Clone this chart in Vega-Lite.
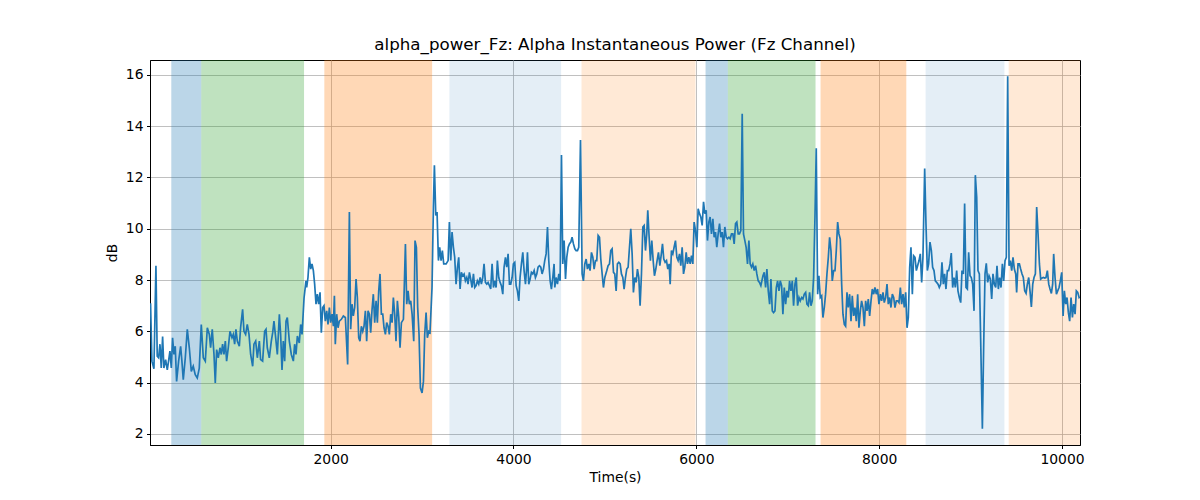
{
  "$schema": "https://vega.github.io/schema/vega-lite/v6.json",
  "autosize": {"type": "none"},
  "width": 930,
  "height": 385,
  "padding": {"left": 150, "top": 60, "right": 120, "bottom": 55},
  "background": "#ffffff",
  "config": {
    "font": "DejaVu Sans",
    "view": {"stroke": "#000000", "strokeWidth": 1},
    "axis": {
      "domainColor": "#000000",
      "tickColor": "#000000",
      "tickSize": 3.5,
      "labelPadding": 3.5,
      "labelFontSize": 13.9,
      "labelColor": "#000000",
      "titleFontSize": 13.9,
      "titleFontWeight": "normal",
      "titleColor": "#000000",
      "gridColor": "#b0b0b0",
      "gridWidth": 0.8
    },
    "title": {"fontSize": 16.7, "fontWeight": "normal", "color": "#000000", "offset": 6}
  },
  "title": "alpha_power_Fz: Alpha Instantaneous Power (Fz Channel)",
  "datasets": {
    "bands": [
      {"start": 257, "end": 585, "phase": "S1"},
      {"start": 585, "end": 1709, "phase": "S2"},
      {"start": 1931, "end": 3110, "phase": "S3"},
      {"start": 3299, "end": 4521, "phase": "S4"},
      {"start": 4744, "end": 5991, "phase": "S5"},
      {"start": 6101, "end": 6345, "phase": "S1"},
      {"start": 6345, "end": 7304, "phase": "S2"},
      {"start": 7359, "end": 8297, "phase": "S3"},
      {"start": 8508, "end": 9370, "phase": "S4"},
      {"start": 9417, "end": 10197, "phase": "S5"}
    ],
    "power": [
      {"time": 30, "db": 7.1}, {"time": 45, "db": 4.84}, {"time": 67, "db": 4.54}, {"time": 89, "db": 8.56},
      {"time": 103, "db": 5.03}, {"time": 118, "db": 4.97}, {"time": 133, "db": 5.5}, {"time": 147, "db": 4.57},
      {"time": 162, "db": 5.8}, {"time": 176, "db": 4.57}, {"time": 195, "db": 4.9}, {"time": 213, "db": 4.5},
      {"time": 227, "db": 4.84}, {"time": 242, "db": 5.23}, {"time": 257, "db": 4.57}, {"time": 271, "db": 5.75},
      {"time": 286, "db": 5.1}, {"time": 300, "db": 5.42}, {"time": 315, "db": 4.05}, {"time": 337, "db": 4.84},
      {"time": 359, "db": 5.42}, {"time": 373, "db": 4.84}, {"time": 388, "db": 4.12}, {"time": 410, "db": 4.97},
      {"time": 432, "db": 6.08}, {"time": 454, "db": 5.36}, {"time": 476, "db": 4.44}, {"time": 497, "db": 4.64},
      {"time": 519, "db": 4.31}, {"time": 541, "db": 4.18}, {"time": 563, "db": 4.57}, {"time": 585, "db": 6.27},
      {"time": 607, "db": 4.97}, {"time": 629, "db": 4.84}, {"time": 651, "db": 6.14}, {"time": 673, "db": 5.88},
      {"time": 687, "db": 5.36}, {"time": 705, "db": 6.08}, {"time": 724, "db": 5.1}, {"time": 738, "db": 3.99},
      {"time": 753, "db": 5.29}, {"time": 771, "db": 4.97}, {"time": 789, "db": 5.36}, {"time": 804, "db": 5.1},
      {"time": 818, "db": 5.5}, {"time": 833, "db": 5.1}, {"time": 848, "db": 5.62}, {"time": 862, "db": 4.84},
      {"time": 880, "db": 5.36}, {"time": 899, "db": 6.0}, {"time": 921, "db": 5.75}, {"time": 935, "db": 5.88},
      {"time": 950, "db": 5.5}, {"time": 964, "db": 6.08}, {"time": 979, "db": 5.62}, {"time": 1001, "db": 5.42},
      {"time": 1015, "db": 6.14}, {"time": 1037, "db": 6.86}, {"time": 1052, "db": 6.0}, {"time": 1070, "db": 5.88},
      {"time": 1088, "db": 6.27}, {"time": 1107, "db": 5.88}, {"time": 1125, "db": 5.1}, {"time": 1147, "db": 4.64},
      {"time": 1161, "db": 5.5}, {"time": 1180, "db": 5.62}, {"time": 1198, "db": 4.97}, {"time": 1220, "db": 5.62},
      {"time": 1234, "db": 4.9}, {"time": 1256, "db": 4.84}, {"time": 1278, "db": 6.0}, {"time": 1293, "db": 6.08},
      {"time": 1307, "db": 5.36}, {"time": 1329, "db": 4.97}, {"time": 1351, "db": 5.62}, {"time": 1366, "db": 5.95},
      {"time": 1380, "db": 6.4}, {"time": 1395, "db": 5.88}, {"time": 1417, "db": 5.1}, {"time": 1439, "db": 6.67},
      {"time": 1453, "db": 5.88}, {"time": 1468, "db": 4.5}, {"time": 1482, "db": 5.62}, {"time": 1497, "db": 4.84},
      {"time": 1512, "db": 6.4}, {"time": 1526, "db": 6.54}, {"time": 1548, "db": 5.62}, {"time": 1570, "db": 5.1},
      {"time": 1592, "db": 4.84}, {"time": 1606, "db": 5.5}, {"time": 1621, "db": 5.1}, {"time": 1636, "db": 5.82},
      {"time": 1657, "db": 5.55}, {"time": 1672, "db": 6.27}, {"time": 1687, "db": 5.88}, {"time": 1709, "db": 7.3},
      {"time": 1730, "db": 7.97}, {"time": 1738, "db": 7.71}, {"time": 1752, "db": 8.1}, {"time": 1767, "db": 8.89},
      {"time": 1782, "db": 8.43}, {"time": 1796, "db": 8.63}, {"time": 1811, "db": 8.37}, {"time": 1825, "db": 7.84},
      {"time": 1840, "db": 7.06}, {"time": 1854, "db": 7.45}, {"time": 1869, "db": 7.06}, {"time": 1884, "db": 7.52},
      {"time": 1898, "db": 5.95}, {"time": 1913, "db": 6.93}, {"time": 1927, "db": 7.0}, {"time": 1942, "db": 6.4},
      {"time": 1957, "db": 6.8}, {"time": 1971, "db": 6.27}, {"time": 1986, "db": 6.93}, {"time": 2000, "db": 6.34},
      {"time": 2015, "db": 6.67}, {"time": 2030, "db": 6.2}, {"time": 2041, "db": 7.39}, {"time": 2051, "db": 5.5},
      {"time": 2066, "db": 6.67}, {"time": 2081, "db": 6.14}, {"time": 2095, "db": 6.4}, {"time": 2117, "db": 6.47},
      {"time": 2139, "db": 6.6}, {"time": 2161, "db": 6.54}, {"time": 2186, "db": 4.71}, {"time": 2205, "db": 10.65},
      {"time": 2219, "db": 6.08}, {"time": 2234, "db": 7.06}, {"time": 2248, "db": 6.6}, {"time": 2263, "db": 6.93},
      {"time": 2278, "db": 8.04}, {"time": 2292, "db": 7.32}, {"time": 2307, "db": 5.75}, {"time": 2321, "db": 5.62},
      {"time": 2336, "db": 6.2}, {"time": 2351, "db": 6.0}, {"time": 2365, "db": 6.2}, {"time": 2380, "db": 6.8},
      {"time": 2394, "db": 5.62}, {"time": 2409, "db": 6.8}, {"time": 2424, "db": 6.67}, {"time": 2438, "db": 5.95},
      {"time": 2453, "db": 6.86}, {"time": 2467, "db": 7.45}, {"time": 2482, "db": 6.34}, {"time": 2497, "db": 7.19},
      {"time": 2511, "db": 6.34}, {"time": 2526, "db": 7.58}, {"time": 2540, "db": 8.24}, {"time": 2555, "db": 6.67},
      {"time": 2570, "db": 6.67}, {"time": 2584, "db": 6.14}, {"time": 2599, "db": 5.88}, {"time": 2613, "db": 6.34},
      {"time": 2628, "db": 6.2}, {"time": 2642, "db": 5.88}, {"time": 2657, "db": 6.67}, {"time": 2672, "db": 6.34},
      {"time": 2686, "db": 7.32}, {"time": 2701, "db": 6.67}, {"time": 2715, "db": 5.62}, {"time": 2730, "db": 7.19},
      {"time": 2745, "db": 6.54}, {"time": 2759, "db": 5.36}, {"time": 2774, "db": 6.34}, {"time": 2796, "db": 6.47},
      {"time": 2818, "db": 9.41}, {"time": 2832, "db": 7.06}, {"time": 2847, "db": 7.58}, {"time": 2861, "db": 7.06},
      {"time": 2876, "db": 7.19}, {"time": 2891, "db": 6.67}, {"time": 2909, "db": 5.62}, {"time": 2923, "db": 9.54},
      {"time": 2938, "db": 9.28}, {"time": 2952, "db": 6.93}, {"time": 2967, "db": 5.88}, {"time": 2982, "db": 3.79},
      {"time": 3000, "db": 3.6}, {"time": 3015, "db": 4.05}, {"time": 3029, "db": 5.88}, {"time": 3044, "db": 6.73},
      {"time": 3058, "db": 5.75}, {"time": 3073, "db": 6.0}, {"time": 3087, "db": 5.95}, {"time": 3109, "db": 7.71},
      {"time": 3124, "db": 10.85}, {"time": 3135, "db": 12.48}, {"time": 3150, "db": 10.52}, {"time": 3164, "db": 10.65},
      {"time": 3179, "db": 8.76}, {"time": 3193, "db": 9.28}, {"time": 3208, "db": 8.76}, {"time": 3222, "db": 9.15},
      {"time": 3237, "db": 8.63}, {"time": 3263, "db": 8.63}, {"time": 3285, "db": 8.76}, {"time": 3299, "db": 10.26},
      {"time": 3314, "db": 8.76}, {"time": 3328, "db": 9.87}, {"time": 3343, "db": 9.28}, {"time": 3357, "db": 8.89},
      {"time": 3372, "db": 7.84}, {"time": 3387, "db": 8.5}, {"time": 3401, "db": 8.89}, {"time": 3416, "db": 7.65},
      {"time": 3430, "db": 8.3}, {"time": 3445, "db": 8.17}, {"time": 3460, "db": 8.24}, {"time": 3474, "db": 7.97},
      {"time": 3489, "db": 8.1}, {"time": 3503, "db": 7.84}, {"time": 3518, "db": 8.3}, {"time": 3532, "db": 8.04},
      {"time": 3547, "db": 7.71}, {"time": 3562, "db": 8.24}, {"time": 3576, "db": 7.71}, {"time": 3591, "db": 7.78},
      {"time": 3605, "db": 7.97}, {"time": 3620, "db": 7.84}, {"time": 3635, "db": 8.1}, {"time": 3649, "db": 7.84},
      {"time": 3664, "db": 8.1}, {"time": 3678, "db": 8.63}, {"time": 3693, "db": 7.91}, {"time": 3708, "db": 7.84},
      {"time": 3722, "db": 7.91}, {"time": 3737, "db": 7.78}, {"time": 3751, "db": 7.65}, {"time": 3766, "db": 8.63},
      {"time": 3781, "db": 7.71}, {"time": 3795, "db": 7.97}, {"time": 3810, "db": 7.71}, {"time": 3824, "db": 8.76},
      {"time": 3839, "db": 8.1}, {"time": 3854, "db": 7.91}, {"time": 3868, "db": 7.78}, {"time": 3883, "db": 7.45},
      {"time": 3897, "db": 8.5}, {"time": 3912, "db": 8.89}, {"time": 3926, "db": 8.5}, {"time": 3941, "db": 9.02},
      {"time": 3956, "db": 7.84}, {"time": 3970, "db": 7.84}, {"time": 3985, "db": 8.1}, {"time": 3999, "db": 8.63},
      {"time": 4014, "db": 8.69}, {"time": 4029, "db": 7.78}, {"time": 4043, "db": 7.58}, {"time": 4058, "db": 7.19},
      {"time": 4072, "db": 8.1}, {"time": 4087, "db": 8.63}, {"time": 4102, "db": 9.08}, {"time": 4116, "db": 8.37},
      {"time": 4131, "db": 7.84}, {"time": 4145, "db": 8.5}, {"time": 4153, "db": 9.08}, {"time": 4167, "db": 7.84},
      {"time": 4182, "db": 8.04}, {"time": 4196, "db": 8.3}, {"time": 4211, "db": 8.24}, {"time": 4226, "db": 8.37},
      {"time": 4240, "db": 8.1}, {"time": 4255, "db": 8.24}, {"time": 4269, "db": 8.5}, {"time": 4284, "db": 8.56},
      {"time": 4299, "db": 8.5}, {"time": 4313, "db": 8.24}, {"time": 4328, "db": 8.43}, {"time": 4342, "db": 8.76},
      {"time": 4357, "db": 9.02}, {"time": 4372, "db": 10.07}, {"time": 4386, "db": 8.76}, {"time": 4401, "db": 7.97},
      {"time": 4415, "db": 7.65}, {"time": 4430, "db": 8.1}, {"time": 4444, "db": 8.63}, {"time": 4452, "db": 7.71},
      {"time": 4466, "db": 8.1}, {"time": 4481, "db": 7.84}, {"time": 4496, "db": 8.24}, {"time": 4510, "db": 7.97},
      {"time": 4525, "db": 12.88}, {"time": 4539, "db": 8.63}, {"time": 4554, "db": 9.54}, {"time": 4569, "db": 8.04},
      {"time": 4583, "db": 8.89}, {"time": 4598, "db": 9.28}, {"time": 4612, "db": 9.41}, {"time": 4627, "db": 9.48},
      {"time": 4641, "db": 9.67}, {"time": 4656, "db": 9.41}, {"time": 4671, "db": 9.22}, {"time": 4685, "db": 9.15},
      {"time": 4700, "db": 9.15}, {"time": 4714, "db": 9.28}, {"time": 4733, "db": 13.46}, {"time": 4751, "db": 8.24},
      {"time": 4765, "db": 7.97}, {"time": 4780, "db": 8.63}, {"time": 4795, "db": 8.82}, {"time": 4809, "db": 8.43},
      {"time": 4824, "db": 8.63}, {"time": 4838, "db": 8.37}, {"time": 4853, "db": 9.08}, {"time": 4868, "db": 8.89},
      {"time": 4882, "db": 8.43}, {"time": 4897, "db": 8.76}, {"time": 4911, "db": 8.76}, {"time": 4926, "db": 9.74},
      {"time": 4941, "db": 9.67}, {"time": 4955, "db": 8.82}, {"time": 4970, "db": 8.24}, {"time": 4984, "db": 7.71},
      {"time": 4999, "db": 8.1}, {"time": 5021, "db": 8.37}, {"time": 5035, "db": 8.56}, {"time": 5050, "db": 8.63},
      {"time": 5064, "db": 9.15}, {"time": 5079, "db": 9.22}, {"time": 5094, "db": 8.3}, {"time": 5108, "db": 8.24},
      {"time": 5123, "db": 7.58}, {"time": 5137, "db": 8.63}, {"time": 5152, "db": 8.69}, {"time": 5167, "db": 8.63},
      {"time": 5181, "db": 8.24}, {"time": 5196, "db": 8.1}, {"time": 5210, "db": 7.65}, {"time": 5225, "db": 8.1},
      {"time": 5239, "db": 8.43}, {"time": 5254, "db": 8.5}, {"time": 5269, "db": 9.28}, {"time": 5283, "db": 10.0},
      {"time": 5298, "db": 9.02}, {"time": 5312, "db": 7.52}, {"time": 5327, "db": 8.1}, {"time": 5342, "db": 7.91},
      {"time": 5356, "db": 8.43}, {"time": 5371, "db": 8.1}, {"time": 5385, "db": 7.0}, {"time": 5400, "db": 8.24},
      {"time": 5415, "db": 10.07}, {"time": 5429, "db": 10.13}, {"time": 5444, "db": 9.15}, {"time": 5458, "db": 9.8},
      {"time": 5469, "db": 10.72}, {"time": 5484, "db": 9.67}, {"time": 5498, "db": 8.76}, {"time": 5513, "db": 9.54},
      {"time": 5528, "db": 8.76}, {"time": 5542, "db": 8.17}, {"time": 5557, "db": 8.43}, {"time": 5571, "db": 8.76},
      {"time": 5586, "db": 9.08}, {"time": 5601, "db": 8.56}, {"time": 5615, "db": 8.95}, {"time": 5630, "db": 9.41},
      {"time": 5644, "db": 8.82}, {"time": 5659, "db": 8.69}, {"time": 5674, "db": 8.76}, {"time": 5688, "db": 8.43},
      {"time": 5703, "db": 8.63}, {"time": 5714, "db": 7.84}, {"time": 5728, "db": 9.15}, {"time": 5743, "db": 9.02},
      {"time": 5757, "db": 9.28}, {"time": 5772, "db": 9.54}, {"time": 5787, "db": 8.89}, {"time": 5801, "db": 8.76},
      {"time": 5816, "db": 9.02}, {"time": 5830, "db": 8.56}, {"time": 5845, "db": 9.28}, {"time": 5860, "db": 8.24},
      {"time": 5874, "db": 8.5}, {"time": 5889, "db": 9.08}, {"time": 5903, "db": 8.63}, {"time": 5918, "db": 8.89},
      {"time": 5933, "db": 8.63}, {"time": 5947, "db": 8.95}, {"time": 5962, "db": 8.63}, {"time": 5976, "db": 10.26},
      {"time": 5991, "db": 9.93}, {"time": 6006, "db": 9.28}, {"time": 6020, "db": 10.78}, {"time": 6035, "db": 10.59},
      {"time": 6049, "db": 10.46}, {"time": 6064, "db": 10.13}, {"time": 6079, "db": 11.05}, {"time": 6093, "db": 10.59},
      {"time": 6108, "db": 10.72}, {"time": 6122, "db": 9.54}, {"time": 6137, "db": 10.26}, {"time": 6151, "db": 10.46},
      {"time": 6166, "db": 9.8}, {"time": 6181, "db": 10.39}, {"time": 6195, "db": 9.67}, {"time": 6210, "db": 9.87},
      {"time": 6224, "db": 9.28}, {"time": 6239, "db": 9.8}, {"time": 6254, "db": 10.2}, {"time": 6268, "db": 9.67},
      {"time": 6283, "db": 9.87}, {"time": 6297, "db": 9.28}, {"time": 6312, "db": 10.07}, {"time": 6327, "db": 9.67},
      {"time": 6341, "db": 9.61}, {"time": 6356, "db": 9.67}, {"time": 6370, "db": 9.61}, {"time": 6385, "db": 9.8},
      {"time": 6400, "db": 9.8}, {"time": 6414, "db": 9.41}, {"time": 6429, "db": 10.2}, {"time": 6443, "db": 10.26},
      {"time": 6458, "db": 9.8}, {"time": 6472, "db": 9.8}, {"time": 6487, "db": 9.93}, {"time": 6502, "db": 14.48},
      {"time": 6516, "db": 9.8}, {"time": 6531, "db": 9.54}, {"time": 6545, "db": 9.28}, {"time": 6560, "db": 8.63},
      {"time": 6575, "db": 9.54}, {"time": 6589, "db": 8.63}, {"time": 6604, "db": 8.5}, {"time": 6618, "db": 8.63},
      {"time": 6633, "db": 8.37}, {"time": 6648, "db": 8.56}, {"time": 6662, "db": 8.24}, {"time": 6677, "db": 7.97},
      {"time": 6691, "db": 7.91}, {"time": 6706, "db": 7.78}, {"time": 6729, "db": 8.17}, {"time": 6743, "db": 8.3},
      {"time": 6758, "db": 7.71}, {"time": 6772, "db": 8.43}, {"time": 6787, "db": 7.58}, {"time": 6802, "db": 7.06},
      {"time": 6816, "db": 8.04}, {"time": 6831, "db": 6.8}, {"time": 6845, "db": 6.73}, {"time": 6860, "db": 6.8},
      {"time": 6875, "db": 7.71}, {"time": 6889, "db": 7.97}, {"time": 6904, "db": 7.58}, {"time": 6918, "db": 7.97},
      {"time": 6933, "db": 7.78}, {"time": 6947, "db": 6.67}, {"time": 6962, "db": 7.71}, {"time": 6977, "db": 7.06},
      {"time": 6991, "db": 7.58}, {"time": 7006, "db": 7.32}, {"time": 7020, "db": 7.97}, {"time": 7035, "db": 7.58},
      {"time": 7050, "db": 7.97}, {"time": 7064, "db": 7.0}, {"time": 7079, "db": 7.84}, {"time": 7093, "db": 8.1},
      {"time": 7108, "db": 7.0}, {"time": 7123, "db": 7.32}, {"time": 7137, "db": 7.19}, {"time": 7152, "db": 7.32},
      {"time": 7166, "db": 7.26}, {"time": 7181, "db": 7.45}, {"time": 7196, "db": 7.52}, {"time": 7210, "db": 7.06},
      {"time": 7225, "db": 7.0}, {"time": 7239, "db": 7.52}, {"time": 7254, "db": 7.0}, {"time": 7268, "db": 7.19},
      {"time": 7283, "db": 8.1}, {"time": 7298, "db": 10.46}, {"time": 7312, "db": 13.14}, {"time": 7327, "db": 7.45},
      {"time": 7341, "db": 8.17}, {"time": 7356, "db": 7.32}, {"time": 7371, "db": 7.39}, {"time": 7385, "db": 6.54},
      {"time": 7400, "db": 6.93}, {"time": 7414, "db": 7.45}, {"time": 7429, "db": 8.24}, {"time": 7444, "db": 8.89},
      {"time": 7458, "db": 9.67}, {"time": 7473, "db": 9.15}, {"time": 7487, "db": 7.97}, {"time": 7502, "db": 8.37},
      {"time": 7517, "db": 8.37}, {"time": 7531, "db": 9.15}, {"time": 7546, "db": 10.26}, {"time": 7560, "db": 9.8},
      {"time": 7575, "db": 9.6}, {"time": 7590, "db": 7.84}, {"time": 7604, "db": 6.67}, {"time": 7619, "db": 6.27},
      {"time": 7633, "db": 6.2}, {"time": 7648, "db": 7.52}, {"time": 7662, "db": 6.93}, {"time": 7677, "db": 7.45},
      {"time": 7692, "db": 6.4}, {"time": 7706, "db": 7.39}, {"time": 7721, "db": 6.6}, {"time": 7735, "db": 6.93},
      {"time": 7750, "db": 6.4}, {"time": 7765, "db": 7.45}, {"time": 7779, "db": 6.14}, {"time": 7794, "db": 6.8},
      {"time": 7808, "db": 7.19}, {"time": 7823, "db": 6.93}, {"time": 7838, "db": 6.2}, {"time": 7852, "db": 7.19},
      {"time": 7867, "db": 6.8}, {"time": 7881, "db": 7.26}, {"time": 7896, "db": 6.6}, {"time": 7911, "db": 7.19},
      {"time": 7925, "db": 7.65}, {"time": 7940, "db": 7.45}, {"time": 7954, "db": 7.71}, {"time": 7969, "db": 7.45},
      {"time": 7983, "db": 7.65}, {"time": 7998, "db": 7.06}, {"time": 8013, "db": 7.45}, {"time": 8027, "db": 7.19},
      {"time": 8042, "db": 7.52}, {"time": 8056, "db": 7.12}, {"time": 8071, "db": 7.32}, {"time": 8086, "db": 7.84},
      {"time": 8100, "db": 7.06}, {"time": 8115, "db": 7.32}, {"time": 8129, "db": 6.93}, {"time": 8144, "db": 7.45},
      {"time": 8159, "db": 7.32}, {"time": 8173, "db": 6.93}, {"time": 8188, "db": 7.19}, {"time": 8202, "db": 7.19},
      {"time": 8217, "db": 7.12}, {"time": 8232, "db": 7.71}, {"time": 8246, "db": 7.06}, {"time": 8261, "db": 7.45},
      {"time": 8275, "db": 6.93}, {"time": 8290, "db": 7.52}, {"time": 8305, "db": 6.14}, {"time": 8319, "db": 6.54},
      {"time": 8334, "db": 8.5}, {"time": 8348, "db": 9.28}, {"time": 8363, "db": 7.45}, {"time": 8377, "db": 8.95},
      {"time": 8392, "db": 8.89}, {"time": 8407, "db": 8.37}, {"time": 8436, "db": 8.76}, {"time": 8450, "db": 9.02},
      {"time": 8465, "db": 7.91}, {"time": 8479, "db": 8.89}, {"time": 8498, "db": 12.35}, {"time": 8512, "db": 10.2},
      {"time": 8527, "db": 8.37}, {"time": 8541, "db": 8.63}, {"time": 8556, "db": 9.48}, {"time": 8571, "db": 9.15},
      {"time": 8585, "db": 8.5}, {"time": 8600, "db": 8.37}, {"time": 8614, "db": 7.97}, {"time": 8629, "db": 7.91},
      {"time": 8644, "db": 7.84}, {"time": 8658, "db": 7.71}, {"time": 8673, "db": 7.84}, {"time": 8687, "db": 8.69},
      {"time": 8702, "db": 7.84}, {"time": 8716, "db": 8.24}, {"time": 8731, "db": 7.65}, {"time": 8746, "db": 8.37},
      {"time": 8760, "db": 8.37}, {"time": 8775, "db": 8.63}, {"time": 8789, "db": 9.05}, {"time": 8804, "db": 7.71},
      {"time": 8819, "db": 8.1}, {"time": 8833, "db": 7.71}, {"time": 8848, "db": 8.37}, {"time": 8862, "db": 7.58},
      {"time": 8877, "db": 7.32}, {"time": 8892, "db": 7.12}, {"time": 8906, "db": 8.37}, {"time": 8921, "db": 8.24},
      {"time": 8935, "db": 10.98}, {"time": 8950, "db": 7.71}, {"time": 8965, "db": 7.65}, {"time": 8979, "db": 9.08},
      {"time": 8994, "db": 8.17}, {"time": 9008, "db": 8.1}, {"time": 9023, "db": 7.84}, {"time": 9038, "db": 6.8},
      {"time": 9052, "db": 12.09}, {"time": 9067, "db": 11.24}, {"time": 9081, "db": 8.37}, {"time": 9096, "db": 8.24},
      {"time": 9110, "db": 5.75}, {"time": 9129, "db": 2.2}, {"time": 9143, "db": 5.36}, {"time": 9158, "db": 8.24},
      {"time": 9172, "db": 8.65}, {"time": 9187, "db": 7.91}, {"time": 9202, "db": 8.17}, {"time": 9216, "db": 8.04},
      {"time": 9231, "db": 7.26}, {"time": 9245, "db": 8.24}, {"time": 9260, "db": 7.84}, {"time": 9275, "db": 7.71},
      {"time": 9289, "db": 8.56}, {"time": 9304, "db": 7.65}, {"time": 9318, "db": 8.1}, {"time": 9333, "db": 7.71},
      {"time": 9348, "db": 8.63}, {"time": 9362, "db": 7.97}, {"time": 9377, "db": 8.76}, {"time": 9391, "db": 8.89},
      {"time": 9406, "db": 15.95}, {"time": 9421, "db": 8.56}, {"time": 9435, "db": 8.76}, {"time": 9450, "db": 8.37},
      {"time": 9464, "db": 8.89}, {"time": 9479, "db": 8.43}, {"time": 9494, "db": 8.24}, {"time": 9504, "db": 7.52},
      {"time": 9519, "db": 8.63}, {"time": 9534, "db": 8.63}, {"time": 9548, "db": 8.43}, {"time": 9563, "db": 8.24},
      {"time": 9577, "db": 8.1}, {"time": 9592, "db": 7.58}, {"time": 9607, "db": 7.48}, {"time": 9621, "db": 7.84},
      {"time": 9636, "db": 8.1}, {"time": 9650, "db": 7.58}, {"time": 9665, "db": 6.95}, {"time": 9680, "db": 7.84},
      {"time": 9694, "db": 8.1}, {"time": 9709, "db": 8.24}, {"time": 9723, "db": 10.85}, {"time": 9738, "db": 9.8},
      {"time": 9753, "db": 8.63}, {"time": 9767, "db": 8.04}, {"time": 9782, "db": 8.08}, {"time": 9796, "db": 8.1},
      {"time": 9811, "db": 8.08}, {"time": 9825, "db": 8.1}, {"time": 9840, "db": 8.37}, {"time": 9855, "db": 7.84},
      {"time": 9869, "db": 7.65}, {"time": 9884, "db": 7.48}, {"time": 9898, "db": 7.84}, {"time": 9909, "db": 9.02},
      {"time": 9924, "db": 8.1}, {"time": 9939, "db": 7.45}, {"time": 9953, "db": 7.58}, {"time": 9968, "db": 7.71},
      {"time": 9982, "db": 7.97}, {"time": 9997, "db": 8.3}, {"time": 10012, "db": 6.6}, {"time": 10026, "db": 7.58},
      {"time": 10041, "db": 7.06}, {"time": 10055, "db": 7.32}, {"time": 10070, "db": 6.73}, {"time": 10084, "db": 6.4},
      {"time": 10099, "db": 7.32}, {"time": 10114, "db": 6.54}, {"time": 10128, "db": 7.06}, {"time": 10143, "db": 6.67},
      {"time": 10157, "db": 7.58}, {"time": 10172, "db": 7.52}, {"time": 10187, "db": 7.32}, {"time": 10194, "db": 7.35}
    ]
  },
  "encoding": {
    "x": {
      "type": "quantitative",
      "scale": {"domain": [24, 10197], "nice": false, "zero": false},
      "axis": {"title": "Time(s)", "values": [2000, 4000, 6000, 8000, 10000], "format": "d", "titlePadding": 5}
    }
  },
  "layer": [
    {
      "data": {"name": "bands"},
      "mark": {"type": "rect", "strokeWidth": 1, "clip": true},
      "encoding": {
        "x": {"field": "start", "type": "quantitative"},
        "x2": {"field": "end"},
        "color": {
          "field": "phase", "type": "nominal", "legend": null,
          "scale": {"domain": ["S1", "S2", "S3", "S4", "S5"], "range": ["#1f77b4", "#2ca02c", "#ff7f0e", "#1f77b4", "#ff7f0e"]}
        },
        "opacity": {
          "field": "phase", "type": "nominal", "legend": null,
          "scale": {"type": "ordinal", "domain": ["S1", "S2", "S3", "S4", "S5"], "range": [0.3, 0.3, 0.3, 0.12, 0.17]}
        }
      }
    },
    {
      "data": {"name": "power"},
      "mark": {"type": "line", "color": "#1f77b4", "strokeWidth": 1.7, "clip": true},
      "encoding": {
        "x": {"field": "time", "type": "quantitative"},
        "y": {
          "field": "db", "type": "quantitative",
          "scale": {"domain": [1.57, 16.58], "nice": false, "zero": false},
          "axis": {"title": "dB", "values": [2, 4, 6, 8, 10, 12, 14, 16], "titlePadding": 6}
        }
      }
    }
  ]
}
